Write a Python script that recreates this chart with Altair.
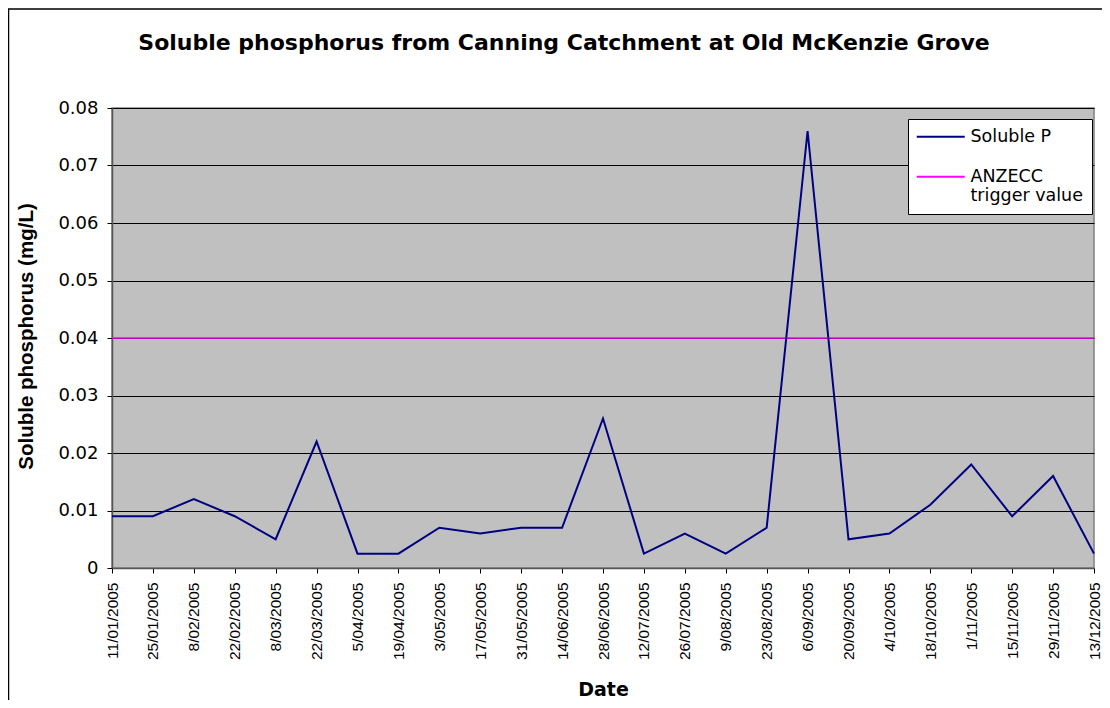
import altair as alt
import pandas as pd

dates = ["11/01/2005", "25/01/2005", "8/02/2005", "22/02/2005", "8/03/2005",
         "22/03/2005", "5/04/2005", "19/04/2005", "3/05/2005", "17/05/2005",
         "31/05/2005", "14/06/2005", "28/06/2005", "12/07/2005", "26/07/2005",
         "9/08/2005", "23/08/2005", "6/09/2005", "20/09/2005", "4/10/2005",
         "18/10/2005", "1/11/2005", "15/11/2005", "29/11/2005", "13/12/2005"]
soluble_p = [0.009, 0.009, 0.012, 0.009, 0.005,
             0.022, 0.0025, 0.0025, 0.007, 0.006,
             0.007, 0.007, 0.026, 0.0025, 0.006,
             0.0025, 0.007, 0.076, 0.005, 0.006,
             0.011, 0.018, 0.009, 0.016, 0.0025]
trigger_value = 0.04
series_names = ["Soluble P", "ANZECC trigger value"]
series_colors = ["#000080", "#FF00FF"]
y_ticks = [0, 0.01, 0.02, 0.03, 0.04, 0.05, 0.06, 0.07, 0.08]

FONT = "Liberation Sans"
HFONT = "DejaVu Sans"
W, H = 982, 460

df_p = pd.DataFrame({"Date": dates, "value": soluble_p, "series": series_names[0]})
df_t = pd.DataFrame({"Date": dates, "value": [trigger_value] * len(dates),
                     "series": series_names[1]})

x_enc = alt.X("Date:N", sort=dates,
              scale=alt.Scale(type="point", padding=0),
              axis=alt.Axis(title="Date", labelAngle=270, labelFontSize=15.5,
                            labelFont=FONT, labelPadding=9, tickSize=5,
                            titleFont=HFONT, titleFontSize=19,
                            titleFontWeight="bold", titleBaseline="alphabetic",
                            titleY=127, titleX=W / 2, grid=False))
y_enc = alt.Y("value:Q",
              scale=alt.Scale(domain=[0, 0.08], nice=False, zero=True),
              axis=alt.Axis(title="Soluble phosphorus (mg/L)", values=y_ticks,
                            format=".2~f", labelFont=HFONT, labelFontSize=18,
                            labelPadding=9, tickSize=5, titleFont=FONT,
                            titleFontSize=20.5, titleFontWeight="bold",
                            titleAngle=270, titleBaseline="alphabetic",
                            titleX=-80, titleY=228, titleAlign="center",
                            grid=True, gridColor="#000000", gridWidth=1))
color_enc = alt.Color("series:N",
                      scale=alt.Scale(domain=series_names, range=series_colors),
                      legend=alt.Legend(title=None, orient="none", legendX=796,
                                        legendY=11, fillColor="#FFFFFF",
                                        strokeColor="#000000", padding=9,
                                        symbolType="M-1.5,0L6.5,0", symbolSize=144,
                                        symbolStrokeWidth=2, labelFontSize=17.5,
                                        labelFont=HFONT, labelOffset=36,
                                        labelLimit=300, rowPadding=21,
                                        labelExpr="datum.label == 'ANZECC trigger value' ? ['ANZECC', 'trigger value'] : datum.label"))

trig = alt.Chart(df_t).mark_line(strokeWidth=1.5).encode(x=x_enc, y=y_enc, color=color_enc)
line = alt.Chart(df_p).mark_line(strokeWidth=2).encode(x=x_enc, y=y_enc, color=color_enc)

frame = alt.Chart(pd.DataFrame({"k": [0]})).mark_rect(
    fill=None, stroke="#000000", strokeWidth=1.5
).encode(x=alt.value(-103.5), x2=alt.value(W + 40), y=alt.value(-99), y2=alt.value(H + 200))

chart = alt.layer(frame, trig, line).properties(
    width=W, height=H,
    autosize="none",
    background="#FFFFFF",
    padding={"left": 104, "top": 100, "right": 8, "bottom": 132},
    title=alt.Title("Soluble phosphorus from Canning Catchment at Old McKenzie Grove",
                    font=HFONT, fontSize=22, fontWeight="bold", anchor="middle",
                    frame="group", baseline="alphabetic",
                    dx=-39, offset=-64, color="#000000"),
).configure_view(
    fill="#C0C0C0", stroke="#808080", strokeWidth=1.5
).configure_axis(
    labelColor="#000000", titleColor="#000000",
    domainColor="#555555", tickColor="#000000", domainWidth=1.5
)

chart.save("out.html", embed_options={"renderer": "svg", "actions": False})
